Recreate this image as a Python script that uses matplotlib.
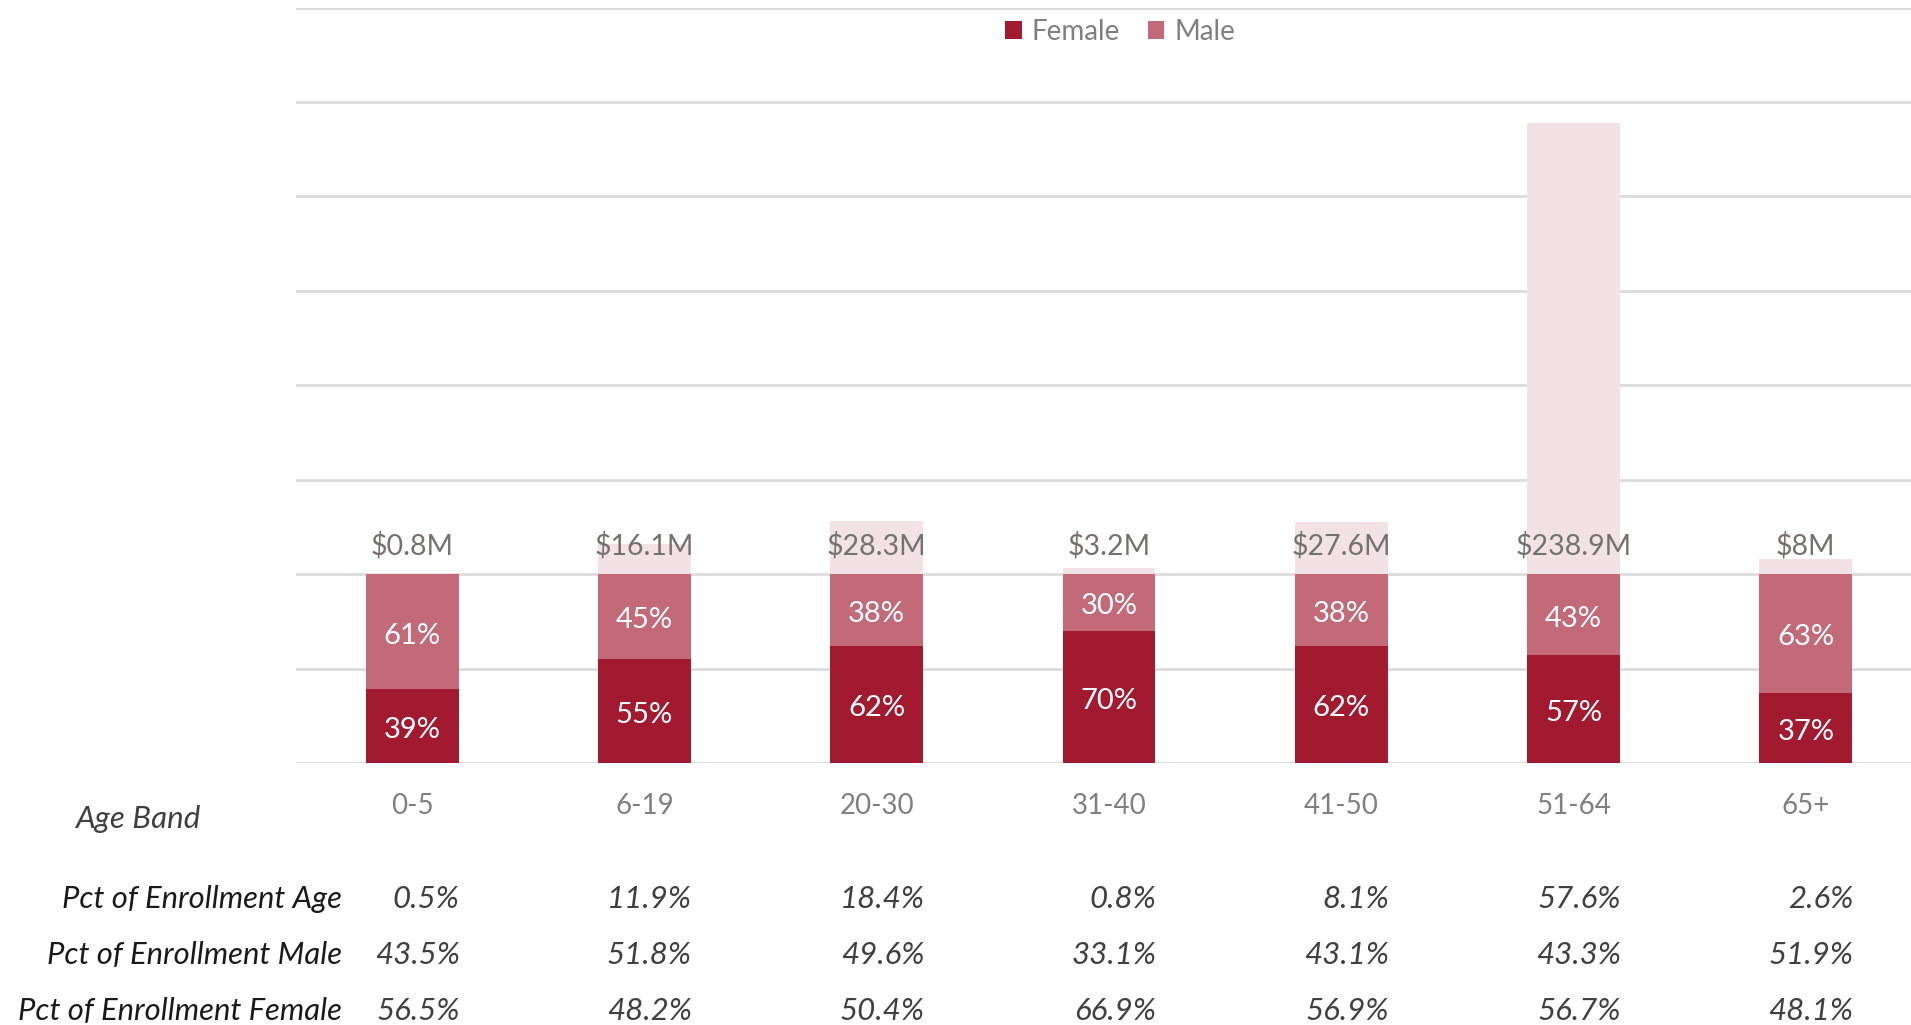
#!/usr/bin/env python3

import numpy as np
import matplotlib.pyplot as plt
import matplotlib.transforms as mtransforms

plt.rcParams['font.family'] = ['Lato', 'DejaVu Sans']

# * Data

age_bands = ["0-5", "6-19", "20-30", "31-40", "41-50", "51-64", "65+"]
female_pct = [39, 55, 62, 70, 62, 57, 37]
male_pct = [61, 45, 38, 30, 38, 43, 63]
cost_musd = [0.8, 16.1, 28.3, 3.2, 27.6, 238.9, 8]

row_labels = ["Pct of Enrollment Age", "Pct of Enrollment Male", "Pct of Enrollment Female"]
enroll_age = [0.5, 11.9, 18.4, 0.8, 8.1, 57.6, 2.6]
enroll_male = [43.5, 51.8, 49.6, 33.1, 43.1, 43.3, 51.9]
enroll_female = [56.5, 48.2, 50.4, 66.9, 56.9, 56.7, 48.1]

# * Colors

C_FEMALE = "#A21A30"
C_MALE = "#C26A77"
C_TOTAL = "#F2E1E5"
C_GRID = "#DCDCDC"

W, H = 1911, 1025
fig = plt.figure(figsize=(W / 100, H / 100), dpi=100)

# Axes placed in pixel terms of the reference.
left, right = 296, 1922
bottom, top = 763, 7.5
ax = fig.add_axes([left / W, 1 - bottom / H, (right - left) / W, (bottom - top) / H])

x = np.arange(len(age_bands))
width = 0.4

female = np.array(female_pct)
male = np.array(male_pct)
cost = np.array(cost_musd)

# Total cost bar sits on top of the 100% stack.
ax.bar(x, cost, width, bottom=female + male, color=C_TOTAL, zorder=2)
ax.bar(x, female, width, color=C_FEMALE, label="Female", zorder=3)
ax.bar(x, male, width, bottom=female, color=C_MALE, label="Male", zorder=3)

for xi, f, m, c in zip(x, female, male, cost):
    ax.text(xi, f / 2 - 2, f"{f}%", ha="center", va="center", color="white", fontsize=21, zorder=4)
    ax.text(xi, f + m / 2 - 2, f"{m}%", ha="center", va="center", color="white", fontsize=21, zorder=4)
    ax.text(xi, f + m + 15, f"${c:g}M", ha="center", va="center", color="#767171", fontsize=20.5, zorder=4)

ax.set_xlim(-0.5, len(age_bands) - 0.5)
ax.set_ylim(0, 400)
ax.set_yticks(np.arange(0, 401, 50))
ax.yaxis.grid(True, color=C_GRID, linewidth=2)
ax.set_axisbelow(True)
ax.tick_params(axis="y", left=False, labelleft=False)
ax.tick_params(axis="x", bottom=False, pad=18)
ax.set_xticks(x)
ax.set_xticklabels(age_bands, fontsize=20, color="#808080")
for s in ax.spines.values():
    s.set_visible(False)

# Legend at top
handles, labels = ax.get_legend_handles_labels()
leg = fig.legend(handles, labels, loc="center", bbox_to_anchor=(1120 / W, 1 - 32 / H),
                 ncol=2, frameon=False, fontsize=20, handlelength=0.6, handleheight=0.6,
                 handletextpad=0.35, columnspacing=1.0)
for t in leg.get_texts():
    t.set_color("#808080")

# Table below axis
fig.text(75 / W, 1 - 819 / H, "Age Band", ha="left", va="center", style="italic",
         fontsize=22.5, color="#404040")

trans = mtransforms.blended_transform_factory(ax.transData, fig.transFigure)
rows = [enroll_age, enroll_male, enroll_female]
row_y = [899, 955, 1011]
for label, vals, yp in zip(row_labels, rows, row_y):
    fig.text(342 / W, 1 - yp / H, label, ha="right", va="center", style="italic",
             fontsize=22.3, color="#1a1a1a")
    for xi, v in zip(x, vals):
        ax.text(xi + 0.205, 1 - yp / H, f"{v}%", transform=trans, ha="right", va="center",
                style="italic", fontsize=22.5, color="#404040")

plt.savefig("out.png", dpi=100)
